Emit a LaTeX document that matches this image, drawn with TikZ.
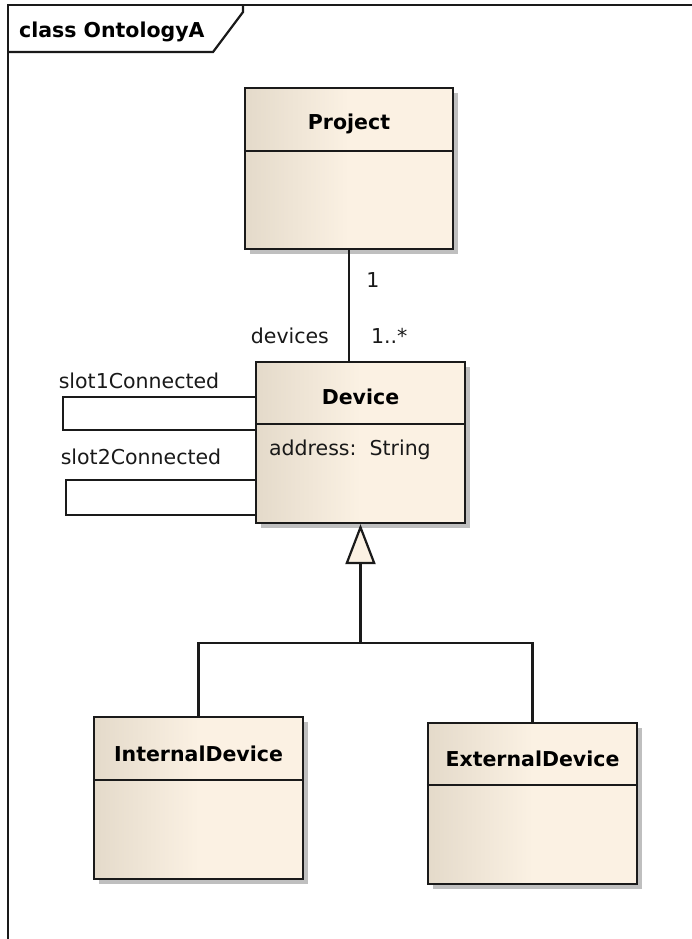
\documentclass[tikz,border=0pt]{standalone}
\usepackage{fontspec}
\setmainfont{DejaVu Sans}
\usepackage{tikz}
\usetikzlibrary{shadows,arrows.meta}
\definecolor{classleft}{HTML}{E4DACA}
\definecolor{classright}{HTML}{FBF1E3}
\definecolor{umlline}{HTML}{1A1A1A}

\begin{document}
\begin{tikzpicture}[
        x=1pt, y=-1pt,
        line width=2.2pt, draw=umlline,
        umlclass/.style={rectangle, draw=umlline, line width=2.3pt,
            left color=classleft, right color=classright, middle color=classright,
            drop shadow={shadow xshift=5pt, shadow yshift=-5pt, fill=black!25, opacity=1},
            minimum width=209pt, minimum height=161pt, inner sep=0pt},
        classname/.style={font=\fontsize{20.5}{24}\selectfont\bfseries, text=black, inner sep=0pt},
        every node/.style={align=center},
    ]
    \tikzstyle{rolename}=[font=\fontsize{20.5}{24}\selectfont, text=black!90, inner sep=0pt]
    \useasboundingbox (0,0) rectangle (692,939);

    \draw (8,939) -- (8,5) -- (692,5);
    \draw (8,52) -- (213,52) -- (243,12) -- (243,5);
    \node[classname, anchor=west] (title) at (18,32) {class OntologyA};

    \node[umlclass, minimum width=208pt] (project) at (349,168.5) {};
    \node[classname] (projectname) at ([yshift=-37pt]project.north) {Project};
    \draw[line width=2.3pt] ([yshift=-64pt]project.north west) -- ([yshift=-64pt]project.north east);

    \node[umlclass] (device) at (360.5,442.5) {};
    \node[classname] (devicename) at ([yshift=-36pt]device.north) {Device};
    \draw[line width=2.3pt] ([yshift=-63pt]device.north west) -- ([yshift=-63pt]device.north east);
    \node[rolename, anchor=west] (address) at (268,450) {address:~\ String};

    \node[umlclass, minimum height=162pt] (internal) at (198.5,798) {};
    \node[classname] (internalname) at ([yshift=-38pt]internal.north) {InternalDevice};
    \draw[line width=2.3pt] ([yshift=-64pt]internal.north west) -- ([yshift=-64pt]internal.north east);

    \node[umlclass] (external) at (532.5,803.5) {};
    \node[classname] (externalname) at ([yshift=-37pt]external.north) {ExternalDevice};
    \draw[line width=2.3pt] ([yshift=-63pt]external.north west) -- ([yshift=-63pt]external.north east);

    \draw (project.south) -- (project.south |- device.north);
    \node[rolename] (projectmult) at (373,280) {1};
    \node[rolename, anchor=east] (devicesrole) at (330,336) {devices};
    \node[rolename, anchor=west] (devicesmult) at (370,336) {1..*};

    \draw ([yshift=45.5pt]device.west) -- ++(-192,0) -- ++(0,33) -- ([yshift=12.5pt]device.west);
    \node[rolename] (slot1) at (139,381) {slot1Connected};
    \draw ([yshift=-37.5pt]device.west) -- ++(-189,0) -- ++(0,35) -- ([yshift=-72.5pt]device.west);
    \node[rolename] (slot2) at (141,457) {slot2Connected};

    \coordinate (branch) at (device.south |- 0,643);
    \draw[-{Triangle[length=40pt, width=30pt, fill=classright, line width=2.2pt]}] (branch) -- (device.south);
    \draw (internal.north) |- (branch) -| (external.north);
\end{tikzpicture}
\end{document}
